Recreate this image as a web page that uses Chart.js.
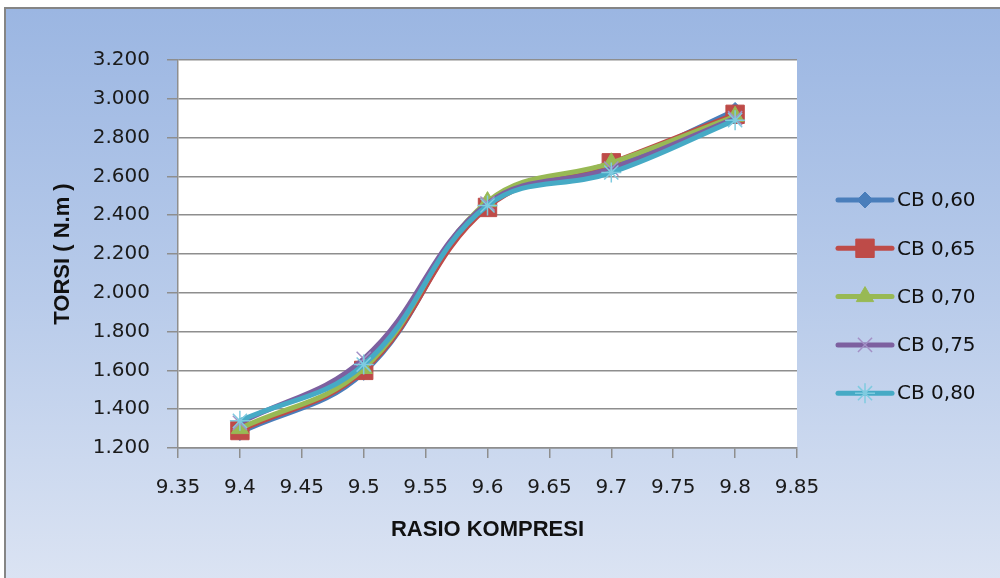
<!DOCTYPE html>
<html>
<head>
<meta charset="utf-8">
<script src="https://cdn.jsdelivr.net/npm/chart.js@4/dist/chart.umd.min.js"></script>
<style>
  html, body { margin: 0; padding: 0; background: #fff; }
  #wrap { position: relative; width: 1000px; height: 578px; overflow: hidden; }
  #frame {
    position: absolute; left: 4px; top: 7px; width: 1000px; height: 580px;
    border-left: 2px solid #858585; border-top: 2px solid #858585;
    background: linear-gradient(to bottom, #9bb6e2 0%, #b8cbea 50%, #dce4f3 100%);
  }
  #chart { position: absolute; left: 0; top: 0; }
</style>
</head>
<body>
<div id="wrap">
  <div id="frame"></div>
  <canvas id="chart" width="1000" height="578"></canvas>
</div>
<script>
// data
const rasio = [9.4, 9.5, 9.6, 9.7, 9.8];
const cb060 = [1.28, 1.59, 2.45, 2.65, 2.94];
const cb065 = [1.29, 1.60, 2.44, 2.67, 2.92];
const cb070 = [1.30, 1.61, 2.47, 2.67, 2.91];
const cb075 = [1.33, 1.66, 2.46, 2.64, 2.90];
const cb080 = [1.34, 1.63, 2.45, 2.62, 2.89];
const seriesNames = ['CB 0,60', 'CB 0,65', 'CB 0,70', 'CB 0,75', 'CB 0,80'];
const xTicks = { min: 9.35, max: 9.85, step: 0.05 };
const yTicks = { min: 1.2, max: 3.2, step: 0.2 };

const tickFont = { family: 'DejaVu Sans', size: 20 };
const titleFont = { family: 'Liberation Sans', size: 22, weight: 'bold' };
const gridGrey = '#8e8e8e';

function pts(vals) {
    return rasio.map((x, i) => ({ x: x, y: vals[i] }));
}

const styles = [
    { color: '#4a7ebb', mark: 'rectRot', r: 8, edge: '#4a7ebb', bw: 1 },
    { color: '#be4b48', mark: 'rect', r: 13, edge: '#be4b48', bw: 1 },
    { color: '#98b954', mark: 'triangle', r: 10, edge: '#98b954', bw: 1 },
    { color: '#7d60a0', mark: 'crossRot', r: 10, edge: '#a390c6', bw: 1.5 },
    { color: '#46aac5', mark: 'star', r: 10, edge: '#7fcbe0', bw: 1.5 }
];
const allValues = [cb060, cb065, cb070, cb075, cb080];

const datasets = allValues.map((vals, i) => ({
    label: seriesNames[i],
    data: pts(vals),
    borderColor: styles[i].color,
    backgroundColor: styles[i].color,
    borderWidth: 5,
    tension: 0.4,
    pointStyle: styles[i].mark,
    pointRadius: styles[i].r,
    pointBackgroundColor: styles[i].color,
    pointBorderColor: styles[i].edge,
    pointBorderWidth: styles[i].bw,
    order: 4 - i
}));

// white plot area
const plotBg = {
    id: 'plotBg',
    beforeDraw(chart) {
        const a = chart.chartArea, ctx = chart.ctx;
        ctx.save();
        ctx.fillStyle = '#ffffff';
        ctx.fillRect(a.left, a.top, a.right - a.left, a.bottom - a.top);
        ctx.restore();
    }
};

// excel-like legend: line + marker, text to the right
const sideLegend = {
    id: 'sideLegend',
    afterDraw(chart) {
        const ctx = chart.ctx;
        const x0 = 838, x1 = 892, top = 200, gap = 48.3;
        chart.data.datasets.forEach((ds, i) => {
            const y = top + i * gap;
            ctx.save();
            ctx.strokeStyle = ds.borderColor;
            ctx.lineWidth = 5;
            ctx.lineCap = 'round';
            ctx.beginPath();
            ctx.moveTo(x0, y);
            ctx.lineTo(x1, y);
            ctx.stroke();
            ctx.fillStyle = ds.pointBackgroundColor;
            ctx.strokeStyle = ds.pointBorderColor;
            ctx.lineWidth = ds.pointBorderWidth;
            ctx.lineCap = 'butt';
            Chart.helpers.drawPoint(ctx, {
                pointStyle: ds.pointStyle,
                radius: ds.pointRadius,
                rotation: 0,
                borderWidth: ds.pointBorderWidth
            }, (x0 + x1) / 2, y);
            ctx.fillStyle = '#111';
            ctx.font = '20px "DejaVu Sans"';
            ctx.textBaseline = 'middle';
            ctx.fillText(ds.label, 897, y + 1);
            ctx.restore();
        });
    }
};

new Chart(document.getElementById('chart').getContext('2d'), {
    type: 'line',
    data: { datasets: datasets },
    options: {
        responsive: false,
        animation: false,
        layout: { padding: { top: 60, right: 203, left: 0, bottom: 0 } },
        plugins: {
            legend: { display: false },
            tooltip: { enabled: false }
        },
        scales: {
            x: {
                type: 'linear',
                min: xTicks.min,
                max: xTicks.max,
                afterFit: (s) => { s.height = 130; },
                ticks: {
                    stepSize: xTicks.step,
                    font: tickFont,
                    color: '#1a1a1a',
                    padding: 18,
                    maxRotation: 0,
                    callback: (v) => String(Number(v.toFixed(2)))
                },
                grid: { drawOnChartArea: false, drawTicks: true, tickLength: 10, color: gridGrey, lineWidth: 1.5 },
                border: { color: gridGrey, width: 1.5 },
                title: {
                    display: true,
                    text: 'RASIO KOMPRESI',
                    font: titleFont,
                    color: '#111',
                    padding: { top: 35, bottom: 35 }
                }
            },
            y: {
                min: yTicks.min,
                max: yTicks.max,
                afterFit: (s) => { s.width = 178; },
                ticks: {
                    stepSize: yTicks.step,
                    font: tickFont,
                    color: '#1a1a1a',
                    padding: 17,
                    callback: (v) => v.toFixed(3)
                },
                grid: { drawOnChartArea: true, tickLength: 11, color: gridGrey, lineWidth: 1.5 },
                border: { color: gridGrey, width: 1.5 },
                title: {
                    display: true,
                    text: 'TORSI ( N.m )',
                    font: titleFont,
                    color: '#111',
                    padding: { top: 50, bottom: 50 }
                }
            }
        }
    },
    plugins: [plotBg, sideLegend]
});
</script>
</body>
</html>
